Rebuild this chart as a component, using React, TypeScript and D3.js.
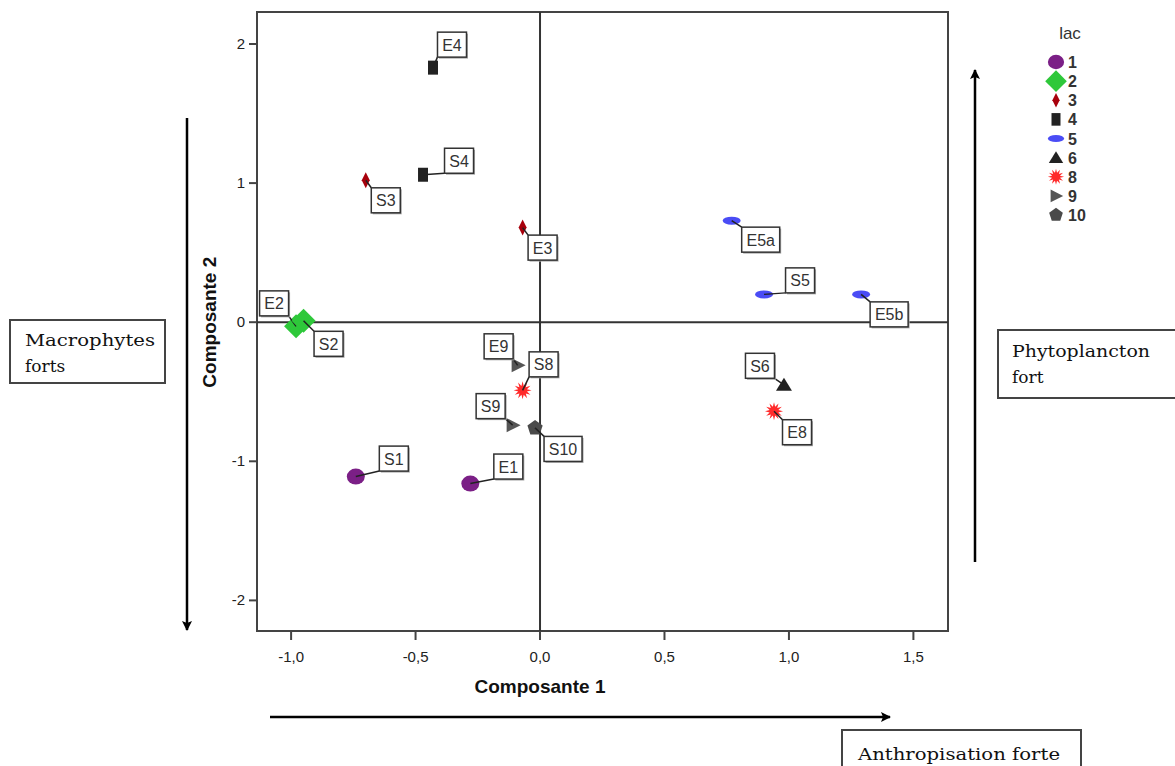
import * as d3 from 'd3'

// ACP scores of the sampling points
const pointIds = ['S1', 'E1', 'E2', 'S2', 'S3', 'E3', 'E4', 'S4', 'E5a', 'S5', 'E5b', 'S6', 'E8', 'S8', 'E9', 'S9', 'S10']
const comp1 = [-0.74, -0.28, -0.98, -0.95, -0.70, -0.07, -0.43, -0.47, 0.77, 0.90, 1.29, 0.98, 0.94, -0.07, -0.09, -0.11, -0.02]
const comp2 = [-1.11, -1.16, -0.03, 0.01, 1.02, 0.68, 1.83, 1.06, 0.73, 0.20, 0.20, -0.45, -0.64, -0.49, -0.31, -0.74, -0.76]
const lacs = [1, 1, 2, 2, 3, 3, 4, 4, 5, 5, 5, 6, 8, 8, 9, 9, 10]

const legendLacs = [1, 2, 3, 4, 5, 6, 8, 9, 10]
const xTicks = [-1.0, -0.5, 0.0, 0.5, 1.0, 1.5]
const yTicks = [-2, -1, 0, 1, 2]

// where each label box sits relative to its point (px)
const labelOffsets: Record<string, [number, number]> = {
    S1: [38, -18], E1: [38, -17], E2: [-22, -23], S2: [25, 23], S3: [20, 20], E3: [20, 20],
    E4: [19, -23], S4: [36, -14], E5a: [29, 19], S5: [36, -14], E5b: [28, 20], S6: [-24, -19],
    E8: [23, 21], S8: [21, -26], E9: [-19, -19], S9: [-22, -19], S10: [28, 21],
}

const colors: Record<number, string> = {
    1: '#7b1f86', 2: '#2ec83a', 3: '#a8000c', 4: '#222222', 5: '#4a4cf5',
    6: '#222222', 8: '#ff2a2a', 9: '#555555', 10: '#4a4a4a',
}

function star(): string {
    const pts: string[] = []
    for (let i = 0; i < 24; i++) {
        const r = i % 2 === 0 ? 9 : 4.5
        const a = (Math.PI * 2 * i) / 24
        pts.push(`${(r * Math.cos(a)).toFixed(2)},${(r * Math.sin(a)).toFixed(2)}`)
    }
    return 'M' + pts.join('L') + 'Z'
}

function pentagon(r: number): string {
    const pts: string[] = []
    for (let i = 0; i < 5; i++) {
        const a = -Math.PI / 2 + (Math.PI * 2 * i) / 5
        pts.push(`${(r * Math.cos(a)).toFixed(2)},${(r * Math.sin(a)).toFixed(2)}`)
    }
    return 'M' + pts.join('L') + 'Z'
}

function symbolPath(lac: number): string {
    switch (lac) {
        case 1: return 'M-9,0 A9,8 0 1,0 9,0 A9,8 0 1,0 -9,0Z'
        case 2: return 'M0,-12 L12,0 L0,12 L-12,0Z'
        case 3: return 'M0,-8 L4,0 L0,8 L-4,0Z'
        case 4: return 'M-5,-7 L5,-7 L5,7 L-5,7Z'
        case 5: return 'M-9,0 A9,4 0 1,0 9,0 A9,4 0 1,0 -9,0Z'
        case 6: return 'M0,-7 L8,6 L-8,6Z'
        case 8: return star()
        case 9: return 'M-6,-7 L8,0 L-6,7Z'
        case 10: return pentagon(8)
        default: return d3.symbol(d3.symbolCircle, 100)() || ''
    }
}

function shape(lac: number, scale = 1) {
    return <path d={symbolPath(lac)} fill={colors[lac]} transform={`scale(${scale})`} />
}

export default function App() {
    const width = 1175
    const height = 766
    const frame = { left: 257, right: 948, top: 12, bottom: 631 }

    const x = d3.scaleLinear().domain([-1.137, 1.639]).range([frame.left, frame.right])
    const y = d3.scaleLinear().domain([-2.22, 2.23]).range([frame.bottom, frame.top])
    const legendY = d3.scaleLinear().domain([0, legendLacs.length - 1]).range([62, 215])

    const axisColor = '#444'
    const fmt = (v: number) => v.toFixed(1).replace('.', ',')

    return (
        <svg width={width} height={height} style={{ position: 'absolute', left: 0, top: 0, background: '#fff' }}
            fontFamily="'Liberation Sans', Arial, sans-serif">
            <defs>
                <marker id="arr" viewBox="0 0 10 10" refX="9" refY="5" markerUnits="userSpaceOnUse"
                    markerWidth="14" markerHeight="10" orient="auto-start-reverse">
                    <path d="M0,0 L10,5 L0,10 L2,5Z" fill="#000" />
                </marker>
            </defs>

            {/* frame */}
            <rect x={frame.left} y={frame.top} width={frame.right - frame.left} height={frame.bottom - frame.top}
                fill="none" stroke={axisColor} strokeWidth={2} />
            {/* zero reference lines */}
            <line x1={x(0)} x2={x(0)} y1={frame.top} y2={frame.bottom} stroke="#333" strokeWidth={2} />
            <line x1={frame.left} x2={frame.right} y1={y(0)} y2={y(0)} stroke="#333" strokeWidth={2} />

            {/* x ticks */}
            {xTicks.map(t => (
                <g key={'xt' + t}>
                    <line x1={x(t)} x2={x(t)} y1={frame.bottom} y2={frame.bottom + 9} stroke={axisColor} strokeWidth={2} />
                    <text x={x(t)} y={frame.bottom + 31} textAnchor="middle" fontSize={15} fill="#222">{fmt(t)}</text>
                </g>
            ))}
            {/* y ticks */}
            {yTicks.map(t => (
                <g key={'yt' + t}>
                    <line x1={frame.left - 8} x2={frame.left} y1={y(t)} y2={y(t)} stroke={axisColor} strokeWidth={2} />
                    <text x={frame.left - 12} y={y(t) + 5} textAnchor="end" fontSize={15} fill="#222">{t}</text>
                </g>
            ))}

            <text x={x(0)} y={693} textAnchor="middle" fontSize={19} fontWeight="bold" fill="#111">Composante 1</text>
            <text transform={`translate(216,${y(0)}) rotate(-90)`} textAnchor="middle" fontSize={19} fontWeight="bold" fill="#111">Composante 2</text>

            {/* points, leader lines and labels */}
            {pointIds.map((id, i) => {
                const px = x(comp1[i])
                const py = y(comp2[i])
                const [dx, dy] = labelOffsets[id]
                const bw = id.length > 2 ? 38 : 29
                const bh = 25
                const bx = px + dx - bw / 2
                const by = py + dy - bh / 2
                const corners: [number, number][] = [[bx, by], [bx + bw, by], [bx, by + bh], [bx + bw, by + bh]]
                let best = corners[0]
                let bd = Infinity
                corners.forEach(c => {
                    const dd = (c[0] - px) ** 2 + (c[1] - py) ** 2
                    if (dd < bd) { bd = dd; best = c }
                })
                return (
                    <g key={id}>
                        <g transform={`translate(${px},${py})`}>{shape(lacs[i])}</g>
                        <line x1={px} y1={py} x2={best[0]} y2={best[1]} stroke="#222" strokeWidth={1.5} />
                        <rect x={bx + 1.5} y={by + 1.5} width={bw} height={bh} fill="#aaa" />
                        <rect x={bx} y={by} width={bw} height={bh} fill="#fff" stroke="#333" strokeWidth={1.5} />
                        <text x={bx + bw / 2} y={by + bh / 2 + 6} textAnchor="middle" fontSize={16} fill="#333">{id}</text>
                    </g>
                )
            })}

            {/* legend */}
            <text x={1070} y={39} textAnchor="middle" fontSize={17} fill="#333">lac</text>
            {legendLacs.map((l, i) => {
                const ly = legendY(i)
                return (
                    <g key={'lg' + l}>
                        <g transform={`translate(1056,${ly})`}>{shape(l, 0.9)}</g>
                        <text x={1068} y={ly + 6} fontSize={16} fontWeight="bold" fill="#333">{l}</text>
                    </g>
                )
            })}

            {/* interpretation arrows */}
            <line x1={187} y1={118} x2={187} y2={630} stroke="#000" strokeWidth={2.5} markerEnd="url(#arr)" />
            <line x1={975} y1={562} x2={975} y2={70} stroke="#000" strokeWidth={2.5} markerEnd="url(#arr)" />
            <line x1={270} y1={717} x2={890} y2={717} stroke="#000" strokeWidth={2.5} markerEnd="url(#arr)" />

            <g fontFamily="'DejaVu Serif', 'Liberation Serif', serif" fill="#111">
                <rect x={10} y={320} width={155} height={63} fill="#fff" stroke="#444" strokeWidth={2} />
                <text x={25} y={346} fontSize={17} textLength={130} lengthAdjust="spacingAndGlyphs">Macrophytes</text>
                <text x={25} y={372} fontSize={17}>forts</text>

                <rect x={998} y={330} width={180} height={68} fill="#fff" stroke="#444" strokeWidth={2} />
                <text x={1012} y={357} fontSize={17} textLength={138} lengthAdjust="spacingAndGlyphs">Phytoplancton</text>
                <text x={1012} y={383} fontSize={17}>fort</text>

                <rect x={842} y={730} width={239} height={50} fill="#fff" stroke="#444" strokeWidth={2} />
                <text x={858} y={760} fontSize={17} textLength={202} lengthAdjust="spacingAndGlyphs">Anthropisation forte</text>
            </g>
        </svg>
    )
}
